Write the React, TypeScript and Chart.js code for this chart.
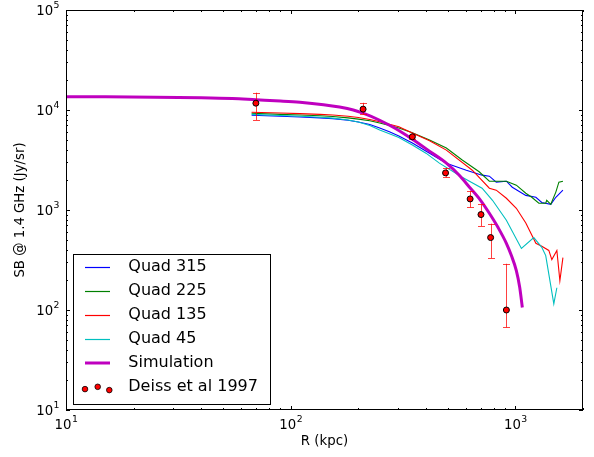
import React, { useEffect, useRef } from "react";
import { Chart, registerables } from "chart.js";
Chart.register(...registerables);

// ---- data ----
const quad315R = [67, 90, 110, 135, 154, 180, 200, 225, 249, 275, 303, 348, 415, 493, 605, 711, 766, 822, 912, 969, 1113, 1234, 1311, 1438, 1514, 1628];
const quad315SB = [8850, 8650, 8500, 8350, 8200, 7900, 7600, 7150, 6600, 6050, 5500, 4670, 3700, 2940, 2500, 2230, 2180, 1900, 1940, 1690, 1400, 1340, 1190, 1140, 1340, 1580];

const quad225R = [67, 90, 110, 135, 154, 180, 200, 225, 249, 275, 303, 348, 415, 493, 580, 690, 766, 912, 1010, 1113, 1183, 1272, 1365, 1379, 1438, 1514, 1562, 1628];
const quad225SB = [9270, 9050, 8900, 8750, 8600, 8350, 8100, 7800, 7400, 7000, 6600, 5920, 5000, 4160, 3160, 2410, 1940, 1940, 1770, 1470, 1340, 1170, 1170, 1250, 1140, 1510, 1900, 1940];

const quad135R = [67, 90, 110, 135, 154, 180, 200, 225, 249, 275, 303, 348, 415, 493, 643, 766, 822, 912, 1010, 1113, 1234, 1311, 1409, 1453, 1530, 1578, 1628];
const quad135SB = [9480, 9320, 9200, 9050, 8910, 8650, 8400, 8050, 7630, 7200, 6800, 5880, 4920, 3970, 2500, 1650, 1580, 1310, 1040, 740, 465, 433, 394, 319, 394, 196, 334];

const quad45R = [67, 90, 110, 135, 154, 180, 200, 225, 249, 275, 303, 348, 400, 459, 580, 711, 791, 912, 1064, 1208, 1311, 1365, 1483, 1530];
const quad45SB = [9050, 8820, 8650, 8450, 8300, 7950, 7600, 7000, 6300, 5800, 5300, 4460, 3700, 2940, 2130, 1650, 1250, 790, 413, 530, 423, 350, 115, 167];

const simR = [10, 15, 25, 40, 55, 70, 90, 110, 140, 165, 190, 210, 249, 290, 348, 413, 493, 560, 625, 700, 766, 840, 912, 960, 1010, 1045, 1074];
const simSB = [13600, 13560, 13450, 13250, 13000, 12650, 12300, 11950, 11300, 10700, 10000, 9300, 7900, 6600, 5100, 3900, 2940, 2250, 1690, 1250, 927, 660, 464, 350, 248, 170, 106];

const deissR = [70, 210, 348, 489, 629, 703, 776, 912];
const deissSB = [11700, 10200, 5400, 2350, 1290, 900, 530, 100];
const deissLow = [7940, 9050, 5150, 2120, 1060, 690, 330, 67];
const deissHigh = [14900, 11800, 5650, 2640, 1540, 1140, 730, 290];

const xTickExps = [1, 2, 3];
const yTickExps = [1, 2, 3, 4, 5];
const X_MIN = 10, X_MAX = 2000, Y_MIN = 10, Y_MAX = 100000;

const legendLabels = ["Quad 315", "Quad 225", "Quad 135", "Quad 45", "Simulation", "Deiss et al 1997"];
const xTitle = "R (kpc)";
const yTitle = "SB @ 1.4 GHz (Jy/sr)";

const FONT = "DejaVu Sans";
const colors = ["#0000ff", "#008000", "#ff0000", "#00bfbf", "#bf00bf"];
const widths = [1.1, 1.1, 1.1, 1.1, 3];

const pts = (r: number[], s: number[]) => r.map((x, i) => ({ x, y: s[i] }));

const decorPlugin = {
  id: "decor",
  beforeDatasetDraw(chart: any, args: any) {
    if (args.index !== 5) return;
    const ctx = chart.ctx;
    const xs = chart.scales.x, ys = chart.scales.y;
    ctx.save();
    ctx.strokeStyle = "rgba(255,0,0,0.75)";
    ctx.lineWidth = 1;
    deissR.forEach((r, i) => {
      const px = Math.round(xs.getPixelForValue(r)) + 0.5;
      const y1 = ys.getPixelForValue(deissLow[i]);
      const y2 = ys.getPixelForValue(deissHigh[i]);
      ctx.beginPath();
      ctx.moveTo(px, y1); ctx.lineTo(px, y2);
      ctx.moveTo(px - 3.5, Math.round(y1) + 0.5); ctx.lineTo(px + 3.5, Math.round(y1) + 0.5);
      ctx.moveTo(px - 3.5, Math.round(y2) + 0.5); ctx.lineTo(px + 3.5, Math.round(y2) + 0.5);
      ctx.stroke();
    });
    ctx.restore();
  },
  afterDraw(chart: any) {
    const ctx = chart.ctx;
    const { left, right, top, bottom } = chart.chartArea;
    const xs = chart.scales.x, ys = chart.scales.y;
    ctx.save();
    ctx.strokeStyle = "#000";
    ctx.lineWidth = 1;
    ctx.strokeRect(left + 0.5, top + 0.5, right - left - 1, bottom - top - 1);
    // ticks
    ctx.beginPath();
    for (let d = 0; d <= 5; d++) {
      for (let k = 1; k <= 9; k++) {
        const v = k * Math.pow(10, d);
        const len = k === 1 ? 4 : 2;
        if (v >= X_MIN && v <= X_MAX) {
          const px = Math.round(xs.getPixelForValue(v)) + 0.5;
          ctx.moveTo(px, bottom); ctx.lineTo(px, bottom - len);
          ctx.moveTo(px, top); ctx.lineTo(px, top + len);
        }
        if (v >= Y_MIN && v <= Y_MAX) {
          const py = Math.round(ys.getPixelForValue(v)) + 0.5;
          ctx.moveTo(left, py); ctx.lineTo(left + len, py);
          ctx.moveTo(right, py); ctx.lineTo(right - len, py);
        }
      }
    }
    ctx.stroke();
    // tick labels
    ctx.fillStyle = "#000";
    ctx.textBaseline = "alphabetic";
    ctx.textAlign = "left";
    const big = `13.3px "${FONT}"`, small = `9.3px "${FONT}"`;
    const measure = (e: number) => {
      ctx.font = big; const w1 = ctx.measureText("10").width;
      ctx.font = small; const w2 = ctx.measureText(String(e)).width;
      return [w1, w2];
    };
    const drawPow = (x0: number, base: number, e: number, w1: number) => {
      ctx.font = big; ctx.fillText("10", x0, base);
      ctx.font = small; ctx.fillText(String(e), x0 + w1 + 0.5, base - 7);
    };
    xTickExps.forEach((e) => {
      const px = xs.getPixelForValue(Math.pow(10, e));
      const [w1, w2] = measure(e);
      drawPow(px - (w1 + w2) / 2, 428.5, e, w1);
    });
    yTickExps.forEach((e) => {
      const py = ys.getPixelForValue(Math.pow(10, e));
      const [w1, w2] = measure(e);
      drawPow(59.5 - (w1 + w2 + 0.5), py + 4.8, e, w1);
    });
    // axis titles
    ctx.font = big;
    ctx.textAlign = "center";
    ctx.fillText(xTitle, (left + right) / 2, 444.5);
    ctx.save();
    ctx.translate(21, (top + bottom) / 2);
    ctx.rotate(-Math.PI / 2);
    ctx.textBaseline = "middle";
    ctx.fillText(yTitle, 0, 0);
    ctx.restore();
    // legend
    const bx = 73.5, by = 254.5, bw = 197, bh = 150;
    ctx.fillStyle = "#fff";
    ctx.fillRect(bx, by, bw, bh);
    ctx.strokeStyle = "#000";
    ctx.lineWidth = 1;
    ctx.strokeRect(bx, by, bw, bh);
    ctx.font = `16px "${FONT}"`;
    ctx.textAlign = "left";
    ctx.textBaseline = "middle";
    legendLabels.forEach((lab, i) => {
      const ry = 267.3 + i * 23.9;
      if (i < 5) {
        ctx.strokeStyle = colors[i];
        ctx.lineWidth = i < 4 ? 1.2 : 3;
        const yy = i < 4 ? Math.round(ry) + 0.5 : Math.round(ry);
        ctx.beginPath();
        ctx.moveTo(85, yy);
        ctx.lineTo(110, yy);
        ctx.stroke();
      } else {
        const dots = [[85, 2.3], [97.7, 0], [109.3, 3.3]];
        dots.forEach(([dx, dy]) => {
          ctx.beginPath();
          ctx.arc(dx, ry + dy, 2.8, 0, Math.PI * 2);
          ctx.fillStyle = "#ff0000";
          ctx.fill();
          ctx.strokeStyle = "#000";
          ctx.lineWidth = 0.8;
          ctx.stroke();
        });
      }
      ctx.fillStyle = "#000";
      ctx.fillText(lab, 128.3, ry);
    });
    ctx.restore();
  },
};

export default function App() {
  const ref = useRef<HTMLCanvasElement | null>(null);
  useEffect(() => {
    document.body.style.margin = "0";
    const series = [
      pts(quad315R, quad315SB),
      pts(quad225R, quad225SB),
      pts(quad135R, quad135SB),
      pts(quad45R, quad45SB),
      pts(simR, simSB),
    ];
    const lineSets = series.map((data, i) => ({
      label: legendLabels[i],
      data,
      showLine: true,
      borderColor: colors[i],
      backgroundColor: colors[i],
      borderWidth: widths[i],
      pointRadius: 0,
      tension: 0,
      cubicInterpolationMode: i === 4 ? "monotone" : "default",
      order: i === 4 ? 1 : 6 - i,
    }));
    const chart = new Chart(ref.current as HTMLCanvasElement, {
      type: "scatter",
      data: {
        datasets: [
          ...(lineSets as any),
          {
            label: legendLabels[5],
            data: pts(deissR, deissSB),
            showLine: false,
            pointRadius: 3,
            pointBackgroundColor: "#ff0000",
            pointBorderColor: "#000",
            pointBorderWidth: 1,
            order: 0,
          } as any,
        ],
      },
      options: {
        animation: false,
        responsive: false,
        layout: { padding: { left: 66, right: 11, top: 10, bottom: 47 } },
        plugins: { legend: { display: false }, tooltip: { enabled: false } },
        scales: {
          x: { type: "logarithmic", min: X_MIN, max: X_MAX, display: false },
          y: { type: "logarithmic", min: Y_MIN, max: Y_MAX, display: false },
        },
      },
      plugins: [decorPlugin],
    });
    return () => chart.destroy();
  }, []);
  return <canvas ref={ref} width={594} height={457} style={{ display: "block" }} />;
}
